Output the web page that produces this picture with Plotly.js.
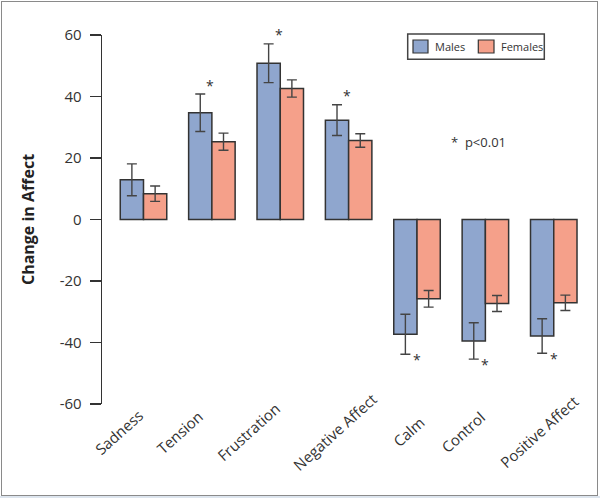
<!DOCTYPE html>
<html>
<head>
<meta charset="utf-8">
<script src="https://cdn.plot.ly/plotly-3.0.1.min.js"></script>
<style>
  html, body { margin: 0; padding: 0; background: #ffffff; }
  #wrap { position: relative; width: 600px; height: 498px; overflow: hidden; }
  #chart { position: absolute; left: 0; top: 0; width: 600px; height: 498px; }
  #frame { position: absolute; left: 1px; top: 1px; width: 595px; height: 493px; border: 1px solid #8a8a8a; pointer-events: none; }
  #strip { position: absolute; left: 0; top: 496px; width: 600px; height: 2px; background: #dde5ee; pointer-events: none; }
</style>
</head>
<body>
<div id="wrap">
  <div id="chart"></div>
  <div id="frame"></div>
  <div id="strip"></div>
</div>
<script>
// ---- data ----
const categories = ["Sadness", "Tension", "Frustration", "Negative Affect", "Calm", "Control", "Positive Affect"];
const malesValues = [12.9, 34.7, 50.8, 32.3, -37.3, -39.5, -37.9];
const malesErrors = [5.2, 6.1, 6.3, 5.0, 6.5, 5.9, 5.6];
const femalesValues = [8.4, 25.3, 42.6, 25.7, -25.8, -27.3, -27.1];
const femalesErrors = [2.5, 2.8, 2.8, 2.2, 2.7, 2.6, 2.5];
const significant = [false, true, true, true, true, true, true];
const yTickValues = [-60, -40, -20, 0, 20, 40, 60];
const seriesNames = ["Males", "Females"];
const noteText = "*  p<0.01";

// ---- style ----
const FONT = '"Open Sans", "Noto Sans", sans-serif';
const TXT = '#333333';
const COLORS = ['#8fa6ce', '#f5a08a'];
const W = 600, H = 498;
const M = { l: 102, r: 10, t: 35, b: 94 };
const PW = W - M.l - M.r, PH = H - M.t - M.b;
const px2x = p => (p - M.l) / PW;          // pixel -> paper x
const px2y = p => (H - M.b - p) / PH;      // pixel -> paper y
// horizontal nudges of the rotated category labels (as laid out in the original figure)
const labelNudge = [-24.5, -32, -32, -14, -9, -22.5, -15];

const traces = seriesNames.map((name, k) => ({
  type: 'bar', name: name, x: categories,
  y: k === 0 ? malesValues : femalesValues,
  marker: { color: COLORS[k], line: { color: '#333333', width: 1.5 } },
  error_y: { type: 'data', array: k === 0 ? malesErrors : femalesErrors, visible: true,
             color: '#444444', thickness: 1.4, width: 5 },
  showlegend: false
}));

const annotations = [];
// significance stars
categories.forEach((c, i) => {
  if (!significant[i]) return;
  const v = malesValues[i], e = malesErrors[i];
  annotations.push({ x: c, y: v >= 0 ? v + e : v - e, xref: 'x', yref: 'y', text: '*', showarrow: false,
    xanchor: 'center', yanchor: 'middle', yshift: v >= 0 ? 9 : -5.5, xshift: v >= 0 ? -1.5 : 0,
    font: { family: FONT, size: 14, color: TXT } });
});
// rotated category labels
categories.forEach((c, i) => {
  annotations.push({ x: c, y: 0, xref: 'x', yref: 'paper', text: c, showarrow: false,
    textangle: -42, xanchor: 'center', yanchor: 'middle', xshift: labelNudge[i], yshift: -28,
    font: { family: FONT, size: 15, color: TXT } });
});
// note
annotations.push({ x: px2x(449), y: 25.2, xref: 'paper', yref: 'y', text: noteText, showarrow: false,
  xanchor: 'left', yanchor: 'middle', font: { family: FONT, size: 13, color: TXT } });
// legend texts
annotations.push({ x: px2x(434), y: px2y(46.5), xref: 'paper', yref: 'paper', text: seriesNames[0], showarrow: false,
  xanchor: 'left', yanchor: 'middle', borderpad: 0, font: { family: FONT, size: 11, color: TXT } });
annotations.push({ x: px2x(500), y: px2y(46.5), xref: 'paper', yref: 'paper', text: seriesNames[1], showarrow: false,
  xanchor: 'left', yanchor: 'middle', borderpad: 0, font: { family: FONT, size: 11, color: TXT } });

const shapes = [
  // legend box
  { type: 'rect', xref: 'paper', yref: 'paper', x0: px2x(407.7), x1: px2x(544.3), y0: px2y(59.3), y1: px2y(34),
    line: { color: '#444444', width: 1.5 }, fillcolor: '#ffffff', layer: 'below' },
  // legend swatches
  { type: 'rect', xref: 'paper', yref: 'paper', x0: px2x(413), x1: px2x(428), y0: px2y(53), y1: px2y(40),
    line: { color: '#333333', width: 1.2 }, fillcolor: COLORS[0] },
  { type: 'rect', xref: 'paper', yref: 'paper', x0: px2x(478.3), x1: px2x(494), y0: px2y(53), y1: px2y(40),
    line: { color: '#333333', width: 1.2 }, fillcolor: COLORS[1] }
];

const layout = {
  width: W, height: H,
  margin: M,
  paper_bgcolor: '#ffffff', plot_bgcolor: 'rgba(0,0,0,0)',
  font: { family: FONT, color: TXT },
  barmode: 'group', bargap: 0.32, bargroupgap: 0,
  showlegend: false,
  xaxis: {
    type: 'category', range: [-0.607, 6.53],
    showline: false, ticks: '', showgrid: false, zeroline: false, showticklabels: false
  },
  yaxis: {
    range: [-60, 60], tickvals: yTickValues, ticktext: yTickValues.map(String),
    showline: true, linecolor: '#333333', linewidth: 1.3,
    ticks: 'outside', ticklen: 11, tickwidth: 1.3, tickcolor: '#333333',
    ticklabelstandoff: 5,
    showgrid: false, zeroline: false,
    tickfont: { family: FONT, size: 15, color: TXT },
    title: { text: '<b>Change in Affect</b>', font: { family: FONT, size: 16, color: '#222222' }, standoff: 21 }
  },
  shapes: shapes,
  annotations: annotations
};

Plotly.newPlot('chart', traces, layout, { displayModeBar: false, staticPlot: true });
</script>
</body>
</html>
